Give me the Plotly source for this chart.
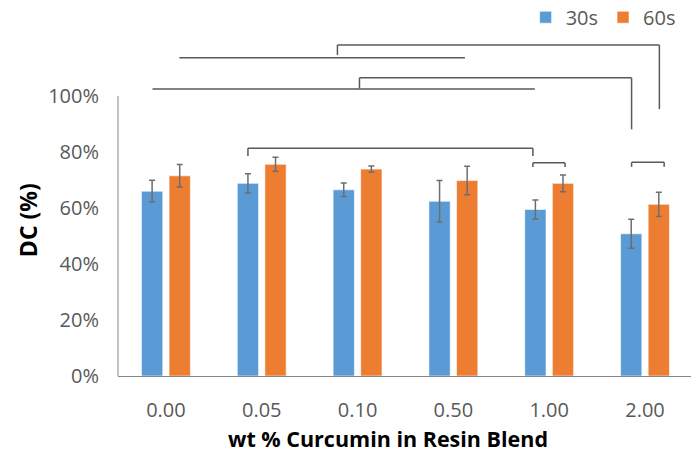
import plotly.graph_objects as go

categories = ["0.00", "0.05", "0.10", "0.50", "1.00", "2.00"]
dc_30s = [66.0, 68.8, 66.5, 62.4, 59.5, 50.8]
err_30s = [3.9, 3.4, 2.4, 7.4, 3.4, 5.2]
dc_60s = [71.5, 75.6, 73.9, 69.8, 68.8, 61.3]
err_60s = [4.0, 2.5, 1.1, 5.1, 3.0, 4.3]
y_ticks = [0, 20, 40, 60, 80, 100]
y_tick_labels = ["0%", "20%", "40%", "60%", "80%", "100%"]

# significance brackets: (x start, x end, bar height, left leg end, right leg end)
brackets = [
    (1.79, 5.15, 118.2, 114.6, 95.3),
    (0.14, 3.12, 113.7, 113.7, 113.7),
    (2.02, 4.86, 106.5, 102.7, 88.1),
    (-0.14, 3.85, 102.5, 102.5, 102.5),
    (0.856, 3.83, 81.3, 78.6, 78.6),
    (3.83, 4.165, 76.2, 74.6, 74.6),
    (4.86, 5.2, 76.3, 74.7, 74.7),
]

BLUE = "#5B9BD5"
ORANGE = "#ED7D31"
GRAY = "#595959"
FONT = "Open Sans"

xpos = list(range(len(categories)))

fig = go.Figure()
fig.add_trace(go.Bar(
    x=xpos, y=dc_30s, name="30s",
    marker=dict(color=BLUE, line=dict(color="rgba(255,255,255,0.6)", width=1)),
    error_y=dict(type="data", array=err_30s, color="#6E6E6E", thickness=1.5, width=3),
))
fig.add_trace(go.Bar(
    x=xpos, y=dc_60s, name="60s",
    marker=dict(color=ORANGE, line=dict(color="rgba(255,255,255,0.6)", width=1)),
    error_y=dict(type="data", array=err_60s, color="#6E6E6E", thickness=1.5, width=3),
))

shapes = []
# y axis line only up to 100%
shapes.append(dict(type="line", xref="paper", yref="y", x0=0, x1=0, y0=0, y1=100,
                   line=dict(color="#868686", width=1)))
for x0, x1, y, yl, yr in brackets:
    ln = dict(color=GRAY, width=1.5)
    shapes.append(dict(type="line", xref="x", yref="y", x0=x0, x1=x1, y0=y, y1=y, line=ln))
    if yl != y:
        shapes.append(dict(type="line", xref="x", yref="y", x0=x0, x1=x0, y0=y, y1=yl, line=ln))
    if yr != y:
        shapes.append(dict(type="line", xref="x", yref="y", x0=x1, x1=x1, y0=y, y1=yr, line=ln))

fig.update_layout(
    width=691, height=453,
    margin=dict(l=118, r=0, t=40, b=77, autoexpand=False),
    paper_bgcolor="white", plot_bgcolor="white",
    barmode="group", bargap=0.424, bargroupgap=0.228,
    font=dict(family=FONT, color=GRAY, size=20),
    showlegend=True,
    legend=dict(orientation="h", xref="container", yref="container",
                x=0.985, xanchor="right", y=0.962, yanchor="middle",
                font=dict(size=20, color=GRAY, family=FONT), bgcolor="rgba(0,0,0,0)",
                traceorder="normal", itemwidth=30, entrywidthmode="pixels"),
    xaxis=dict(type="linear", range=[-0.5, 5.48], tickvals=xpos, ticktext=categories,
               showgrid=False, zeroline=False, showline=True, linecolor="#868686", linewidth=1,
               ticks="", ticklabelstandoff=16, tickfont=dict(size=20, color=GRAY, family=FONT)),
    yaxis=dict(range=[0, 120], tickvals=y_ticks, ticktext=y_tick_labels,
               showgrid=False, zeroline=False, showline=False,
               ticks="", ticklabelstandoff=18, tickfont=dict(size=20, color=GRAY, family=FONT)),
    shapes=shapes,
    annotations=[
        dict(text="<b>wt % Curcumin in Resin Blend</b>", xref="paper", yref="paper",
             x=0.471, y=-0.185, xanchor="center", yanchor="middle", showarrow=False,
             font=dict(size=21.5, color="black", family=FONT)),
        dict(text="<b>DC (%)</b>", xref="paper", yref="paper", textangle=-90,
             x=-0.157, y=0.464, xanchor="center", yanchor="middle", showarrow=False,
             font=dict(size=23, color="black", family=FONT)),
    ],
)

fig.write_html("out.html")
